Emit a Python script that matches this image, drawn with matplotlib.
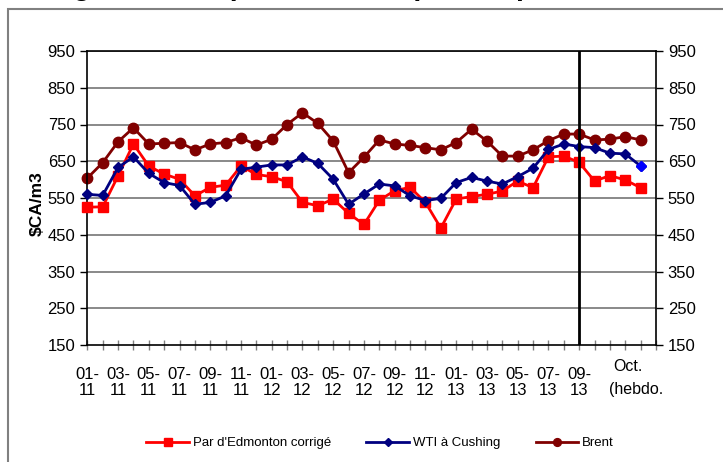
import matplotlib
matplotlib.use("Agg")
import matplotlib.pyplot as plt
import matplotlib.transforms as mtrans
from matplotlib.patches import Rectangle

plt.rcParams['font.family'] = ['Liberation Sans', 'DejaVu Sans']

# Categories: monthly Jan 2011 - Sep 2013, then 4 weekly points in October
x_labels = ["01-\n11", "03-\n11", "05-\n11", "07-\n11", "09-\n11", "11-\n11",
            "01-\n12", "03-\n12", "05-\n12", "07-\n12", "09-\n12", "11-\n12",
            "01-\n13", "03-\n13", "05-\n13", "07-\n13", "09-\n13"]
oct_label_1 = "Oct."
oct_label_2 = "(hebdo."

edmonton = [525, 526, 610, 697, 637, 615, 601, 556, 579, 585, 637, 614, 608, 594,
            538, 529, 547, 508, 478, 544, 570, 579, 538, 468, 547, 554, 560, 569,
            596, 578, 662, 664, 647, 596, 611, 599, 578]
wti = [560, 557, 633, 662, 617, 592, 584, 533, 538, 556, 628, 634, 640, 640,
       662, 644, 601, 533, 561, 588, 583, 556, 543, 549, 592, 606, 596, 588,
       608, 631, 682, 697, 690, 687, 672, 670, 637]
brent = [604, 646, 703, 741, 697, 699, 701, 681, 697, 701, 714, 694, 710, 750,
         782, 753, 705, 619, 661, 708, 697, 693, 687, 681, 701, 737, 705, 664,
         664, 681, 706, 724, 724, 708, 710, 717, 708]

n = len(brent)
xs = list(range(n))

fig = plt.figure(figsize=(7.23, 4.62), dpi=100)
# outer gray frame
fig.patches.append(Rectangle((8 / 723, -0.1), 1.0, 1 - 9 / 462 + 0.1,
                             transform=fig.transFigure, fill=False,
                             edgecolor='#808080', linewidth=1.5))
# cut-off title (only descenders remain visible)
fig.text(48 / 723, 1.0 + 5 / 462,
         "Figure 2 Comparaison des prix du pétrole brut",
         fontsize=20.5, fontweight='bold', ha='left', va='baseline')

ax = fig.add_axes([87.3 / 723, 1 - 345 / 462, (656 - 87.3) / 723, (345 - 51) / 462])
ax.set_xlim(0, n)
ax.set_ylim(150, 950)
yt = list(range(150, 951, 100))
ax.set_yticks(yt)
ax.set_yticklabels([str(v) for v in yt], fontsize=12)
for v in yt[1:]:
    ax.axhline(v, color='#808080', linewidth=1.3, zorder=0)

ax.plot(xs, edmonton, color='#FF0000', linewidth=2, marker='s', markersize=7.5,
        label="Par d'Edmonton corrigé", zorder=3, clip_on=False)
ax.plot(xs, wti, color='#000080', linewidth=2, marker='D', markersize=5.5,
        label="WTI à Cushing", zorder=4, clip_on=False)
ax.plot([xs[-1]], [wti[-1]], linestyle='none', marker='D', markersize=5.5,
        color='#0000FF', zorder=5, clip_on=False)
ax.plot(xs, brent, color='#800000', linewidth=2, marker='o', markersize=7.5,
        label="Brent", zorder=2, clip_on=False)

ax.axvline(32, color='black', linewidth=2, zorder=6)

ax.set_xticks(xs + [n])
ax.set_xticklabels([])
ax.tick_params(axis='x', direction='inout', length=7, color='#808080', width=1)
ax.tick_params(axis='y', direction='out', length=5, width=1)
ax.tick_params(axis='y', which='both', right=True, labelright=True)

lab_tr = ax.transData + mtrans.ScaledTranslation(0, -22 / 100, fig.dpi_scale_trans)
for i, lab in enumerate(x_labels):
    ax.text(2 * i, 150, lab, transform=lab_tr, ha='center', va='top',
            fontsize=12, linespacing=1.05)
oct_tr = ax.transData + mtrans.ScaledTranslation(0, -14 / 100, fig.dpi_scale_trans)
ax.text(35.2, 150, oct_label_1, transform=oct_tr, ha='center', va='top', fontsize=11.5)
oct_tr2 = ax.transData + mtrans.ScaledTranslation(0, -37 / 100, fig.dpi_scale_trans)
ax.text(35.7, 150, oct_label_2, transform=oct_tr2, ha='center', va='top', fontsize=11.5)

for s in ax.spines.values():
    s.set_color('black')
    s.set_linewidth(1.2)

ax.set_ylabel("$CA/m3", fontsize=12.5, fontweight='bold')
ax.yaxis.set_label_coords(-0.075, 0.48)

leg = fig.legend(loc='center', bbox_to_anchor=(380 / 723, 1 - 443 / 462), ncol=3,
                 frameon=False, fontsize=9.5, handlelength=3.2, columnspacing=2.7,
                 handletextpad=0.3, markerscale=0.75)

fig.savefig("out.png", dpi=100)
